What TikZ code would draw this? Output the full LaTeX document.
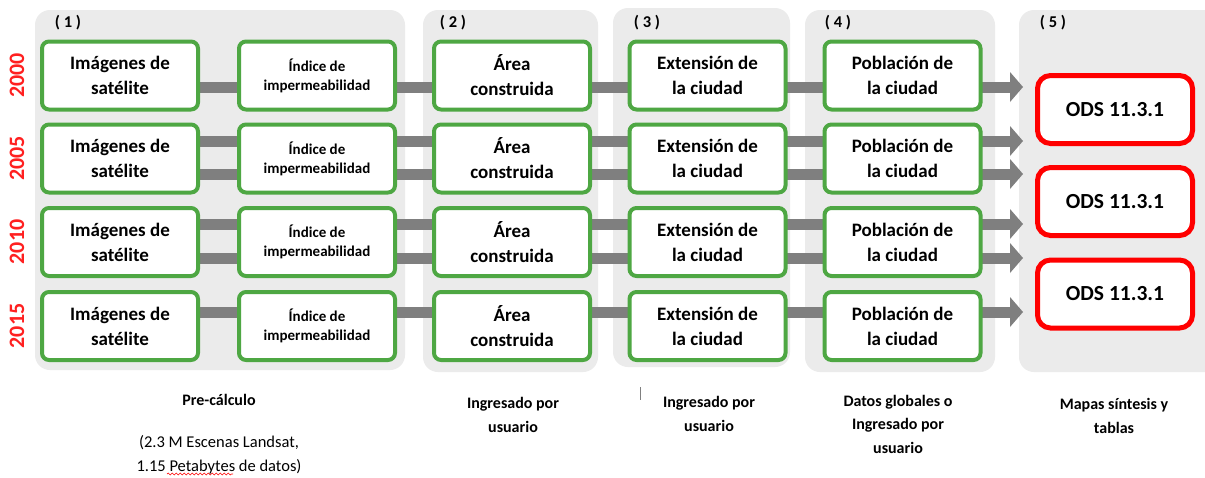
\documentclass[tikz,border=0pt]{standalone}
\usepackage{fontspec}
\setmainfont{Carlito}
\usetikzlibrary{arrows.meta,decorations.pathmorphing}
\definecolor{panelgray}{HTML}{EBEBEB}
\definecolor{boxgreen}{HTML}{4EA743}
\definecolor{bargray}{HTML}{7F7F7F}
\definecolor{odsred}{HTML}{FF0000}
\definecolor{yearred}{HTML}{FF2020}
\pgfdeclarelayer{bg}
\pgfdeclarelayer{mid}
\pgfsetlayers{bg,mid,main}
\tikzset{
  panel/.style={fill=panelgray, draw=none, rounded corners=15pt},
  gbox/.style={draw=boxgreen, line width=4pt, fill=white, rounded corners=7pt,
    minimum width=156pt, minimum height=68pt, inner sep=0pt, align=center,
    font=\bfseries\fontsize{19}{25}\selectfont},
  gboxs/.style={gbox, font=\bfseries\fontsize{15}{19}\selectfont},
  rbox/.style={draw=odsred, line width=5pt, fill=white, rounded corners=13pt,
    minimum width=155pt, minimum height=68pt, inner sep=0pt,
    font=\bfseries\fontsize{21.5}{26}\selectfont},
  bar/.style={draw=bargray, line width=11pt},
  arr/.style={bar, -{Triangle[width=30pt,length=13pt,line width=0pt]}},
  year/.style={text=yearred, rotate=90, inner sep=0pt, font=\bfseries\fontsize{22}{26}\selectfont},
  num/.style={inner sep=0pt, font=\bfseries\fontsize{16.5}{20}\selectfont},
  note/.style={align=center, inner sep=0pt, font=\bfseries\fontsize{16}{23.5}\selectfont},
  notereg/.style={align=center, inner sep=0pt, font=\fontsize{16.5}{23.5}\selectfont},
}
\begin{document}
\begin{tikzpicture}[x=1pt,y=-1pt]
\useasboundingbox (0,0) rectangle (1205,477);

% background and panels
\begin{pgfonlayer}{bg}
  \fill[white] (0,0) rectangle (1205,477);
  \path[panel] (35,10) rectangle (405,370);
  \path[panel] (423,10) rectangle (598,372);
  \path[panel] (613,8) rectangle (790,367);
  \path[panel] (805,10) rectangle (995,372);
  \path[panel] (1019,10) rectangle (1225,372);
\end{pgfonlayer}

% panel numbers
\node[num] (n1) at (68,23) {( 1 )};
\node[num] (n2) at (453,23) {( 2 )};
\node[num] (n3) at (647,23) {( 3 )};
\node[num] (n4) at (838,23) {( 4 )};
\node[num] (n5) at (1053,23) {( 5 )};

% years
\node[year] (y1) at (17,75.5) {2000};
\node[year] (y2) at (17,158.5) {2005};
\node[year] (y3) at (17,242) {2010};
\node[year] (y4) at (17,326) {2015};

% boxes
\foreach \r/\y in {1/75.5, 2/158.5, 3/242, 4/326} {
  \node[gbox]  (A\r) at (120,\y)   {Imágenes de\\satélite};
  \node[gboxs] (B\r) at (317,\y)   {Índice de\\impermeabilidad};
  \node[gbox]  (C\r) at (512,\y)   {Área\\construida};
  \node[gbox]  (D\r) at (707.5,\y) {Extensión de\\la ciudad};
  \node[gbox]  (E\r) at (902.5,\y) {Población de\\la ciudad};
}

% ODS boxes
\node[rbox] (O1) at (1115,109.5) {ODS 11.3.1};
\node[rbox] (O2) at (1115,201.5) {ODS 11.3.1};
\node[rbox] (O3) at (1115,294)   {ODS 11.3.1};

% arrow tips
\coordinate (t1) at (1023,87);
\coordinate (t2) at (1023,141);
\coordinate (t3) at (1023,174);
\coordinate (t4) at (1023,224);
\coordinate (t5) at (1023,258);
\coordinate (t6) at (1023,312);

\begin{pgfonlayer}{mid}
  \draw[arr] (A1 |- t1) -- (t1);
  \draw[arr] (A2 |- t2) -- (t2);
  \draw[arr] (A2 |- t3) -- (t3);
  \draw[arr] (A3 |- t4) -- (t4);
  \draw[arr] (A3 |- t5) -- (t5);
  \draw[arr] (A4 |- t6) -- (t6);
\end{pgfonlayer}

% bottom notes
\node[note] (b1) at (219,400) {Pre-cálculo};
\node[notereg] (b1b) at (219,455) {(2.3 M Escenas Landsat,\\1.15 Petabytes de datos)};
\node[note] (b2) at (513,415) {Ingresado por\\usuario};
\node[note] (b3) at (709,414) {Ingresado por\\usuario};
\node[note] (b4) at (898,424) {Datos globales o\\Ingresado por\\usuario};
\node[note] (b5) at (1114,416) {Mapas síntesis y\\tablas};

% artifacts: spell-check squiggle and text cursor
\draw[red, line width=0.6pt, decorate, decoration={snake, amplitude=0.9pt, segment length=4pt}] (167,474) -- (233,474);
\draw[gray, line width=1pt] (640,387) -- (640,400);
\end{tikzpicture}
\end{document}
